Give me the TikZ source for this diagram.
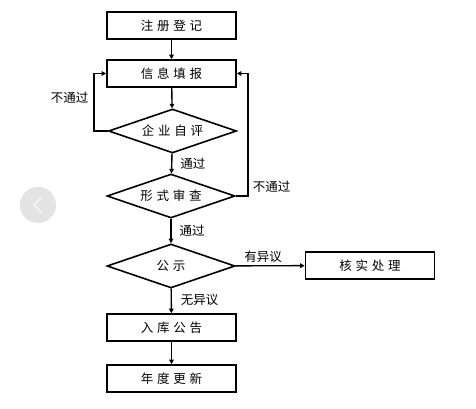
\documentclass[tikz,border=0pt]{standalone}
\usepackage{fontspec}
\setmainfont{Noto Sans CJK SC}
\newfontfamily\boxfont[LetterSpace=30]{Noto Sans CJK SC}
\usetikzlibrary{shapes.geometric,arrows.meta}
\tikzset{
  procbox/.style={draw, line width=1.6pt, minimum width=129pt, minimum height=27pt, inner sep=0pt, font=\boxfont\fontsize{12.5}{14}\selectfont},
  decide/.style={draw, diamond, aspect=2.9, line width=1.6pt, minimum width=128pt, minimum height=44pt, inner sep=0pt, font=\boxfont\fontsize{12.5}{14}\selectfont},
  flow/.style={line width=1.4pt, -{Triangle[length=4.5pt,width=4.5pt]}},
  lbl/.style={font=\fontsize{12.5}{14}\selectfont, inner sep=1pt},
}
\begin{document}
\begin{tikzpicture}[x=1pt,y=-1pt]
\useasboundingbox (0,0) rectangle (476,409);
\fill[white] (0,0) rectangle (476,409);
% carousel button
\fill[gray!22] (38,205) circle (18);
\draw[white, line width=1pt] (42,197) -- (34,205) -- (42,213);

\node[procbox] (reg) at (171.5,25.5) {注册登记};
\node[procbox] (fill) at (171.5,73.5) {信息填报};
\node[decide] (self) at (172.5,131) {企业自评};
\node[decide] (form) at (171,196) {形式审查};
\node[decide] (pub) at (171,266) {公示};
\node[procbox] (check) at (370,265.5) {核实处理};
\node[procbox] (lib) at (171.5,327.5) {入库公告};
\node[procbox] (year) at (171.5,378.5) {年度更新};

\coordinate (l1) at (94,131);
\coordinate (l2) at (94,73.5);
\coordinate (r1) at (248,196);
\coordinate (r2) at (248,73.5);

\draw[flow] (reg) -- (fill);
\draw[flow] (fill) -- (self);
\draw[flow] (self) -- node[lbl, right, xshift=7pt]{通过} (form);
\draw[flow] (form) -- node[lbl, right, xshift=7pt]{通过} (pub);
\draw[flow] (pub) -- node[lbl, above, yshift=1pt, pos=0.4]{有异议} (check);
\draw[flow] (pub) -- node[lbl, right, xshift=8pt, pos=0.45]{无异议} (lib);
\draw[flow] (lib) -- (year);
\draw[flow] (self.west) -- (l1) -- (l2) -- (fill.west);
\draw[flow] (form.east) -- (r1) -- (r2) -- (fill.east);
\node[lbl] (nl) at (69.5,98) {不通过};
\node[lbl] (nr) at (271.5,187) {不通过};
\end{tikzpicture}
\end{document}
